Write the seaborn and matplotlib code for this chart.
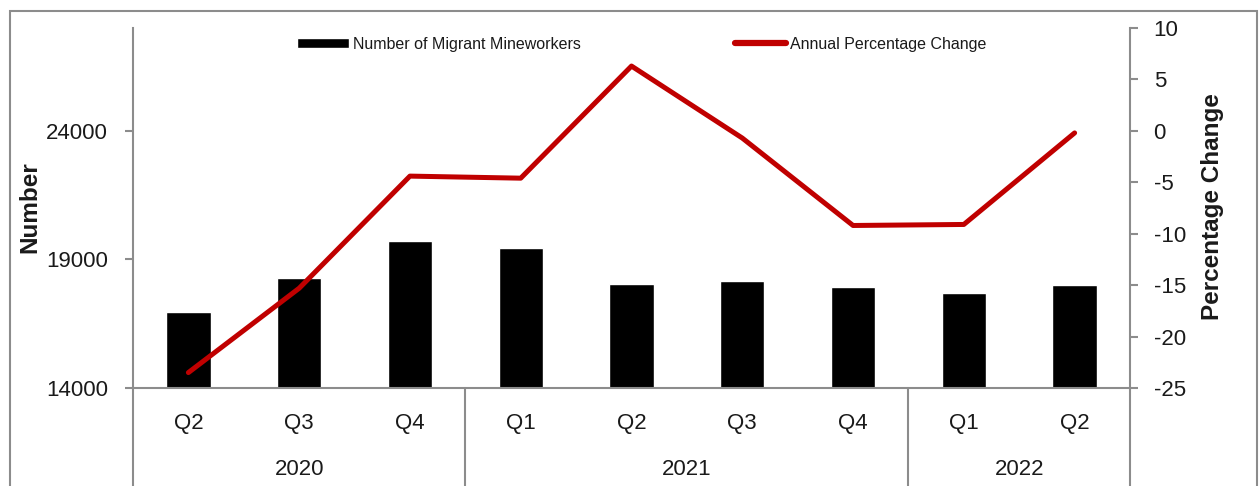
import matplotlib
matplotlib.use("Agg")
import matplotlib.pyplot as plt
from matplotlib.patches import Rectangle
from matplotlib.lines import Line2D
import seaborn as sns
import pandas as pd
import numpy as np

quarters = ["Q2", "Q3", "Q4", "Q1", "Q2", "Q3", "Q4", "Q1", "Q2"]
years = ["2020", "2020", "2020", "2021", "2021", "2021", "2021", "2022", "2022"]
mineworkers = [16970, 18270, 19720, 19460, 18060, 18160, 17920, 17710, 18010]
pct_change = [-23.5, -15.3, -4.4, -4.6, 6.3, -0.7, -9.2, -9.1, -0.2]
year_labels = ["2020", "2021", "2022"]

df = pd.DataFrame({"q": quarters, "year": years, "n": mineworkers, "pct": pct_change})
df["key"] = df["q"] + " " + df["year"]

sns.set_theme(style="white")
FONT = ["Liberation Sans Narrow", "Liberation Sans", "DejaVu Sans"]
plt.rcParams["font.family"] = FONT
plt.rcParams["axes.unicode_minus"] = False

W, H = 1259, 486
fig = plt.figure(figsize=(W / 100, H / 100), dpi=100)
ax = fig.add_axes([133 / W, 1 - 388 / H, (1130 - 133) / W, (388 - 28) / H])

GRAY = "#8c8c8c"
RED = "#C00000"
TXT = "#1a1a1a"
FS = 16

sns.barplot(data=df, x="key", y="n", color="black", width=0.4, ax=ax,
            label="Number of Migrant Mineworkers", saturation=1)
if ax.get_legend() is not None:
    ax.get_legend().remove()
ax.set_ylim(14000, 28000)
ax.set_yticks([14000, 19000, 24000])
ax.set_xlim(-0.5, len(df) - 0.5)
ax.set_xlabel("")
ax.set_ylabel("")
ax.set_xticks(range(len(df)))
ax.set_xticklabels(df["q"], fontsize=FS, color=TXT)
ax.tick_params(axis="x", length=0, pad=18)
ax.tick_params(axis="y", length=6, width=1.5, color=GRAY, direction="out",
               labelsize=FS, pad=12, left=True, labelcolor=TXT)

ax2 = ax.twinx()
sns.lineplot(data=df, x="key", y="pct", color=RED, linewidth=3.6, ax=ax2,
             sort=False, legend=False)
ax2.set_xlim(-0.5, len(df) - 0.5)
ax2.set_ylim(-25, 10)
ax2.set_yticks(np.arange(-25, 11, 5))
ax2.set_ylabel("")
ax2.set_xlabel("")
ax2.tick_params(axis="y", length=6, width=1.5, color=GRAY, direction="out",
                labelsize=FS, pad=11, right=True, labelcolor=TXT)

fig.text(30 / W, 1 - 207 / H, "Number", rotation=90, ha="center", va="center",
         fontsize=17.5, fontweight="bold", color=TXT)
fig.text(1212 / W, 1 - 207 / H, "Percentage Change", rotation=90, ha="center", va="center",
         fontsize=17.5, fontweight="bold", color=TXT)

for a in (ax, ax2):
    for s in a.spines.values():
        s.set_color(GRAY)
        s.set_linewidth(1.5)
    a.spines["top"].set_visible(False)
ax.spines["right"].set_visible(False)
ax2.spines["left"].set_visible(False)
ax2.spines["bottom"].set_visible(False)

# vertical separators extending below axis
trans = ax.get_xaxis_transform()
groups = df.groupby("year", sort=False).apply(lambda g: (g.index.min(), g.index.max()), include_groups=False)
edges = sorted({-0.5, len(df) - 0.5} | {g[1] + 0.5 for g in groups})
for e in edges:
    ax.add_line(Line2D([e, e], [0, -0.3], transform=trans, color=GRAY, lw=1.5, clip_on=False))
for yl in year_labels:
    lo, hi = groups[yl]
    ax.text((lo + hi) / 2, -0.225, yl, transform=trans, ha="center", va="center",
            fontsize=FS, color=TXT)

# legend
h1, l1 = ax.get_legend_handles_labels()
h2 = [Line2D([], [], color=RED, lw=4.5, solid_capstyle="round")]
l2 = ["Annual Percentage Change"]
leg = fig.legend(h1[:1] + h2, l1[:1] + l2, loc="center", bbox_to_anchor=(0.51, 1 - 44 / H), ncol=2,
                 frameon=False, fontsize=11.5, handlelength=3.2, handleheight=0.6,
                 handletextpad=0.3, columnspacing=9.6)
for t in leg.get_texts():
    t.set_color(TXT)

# outer frame
fig.add_artist(Rectangle((10 / W, -0.05), (1257 - 10) / W, 1 - 11 / H + 0.05,
                         transform=fig.transFigure, fill=False, edgecolor=GRAY, lw=1.5))

fig.savefig("out.png", dpi=100)
